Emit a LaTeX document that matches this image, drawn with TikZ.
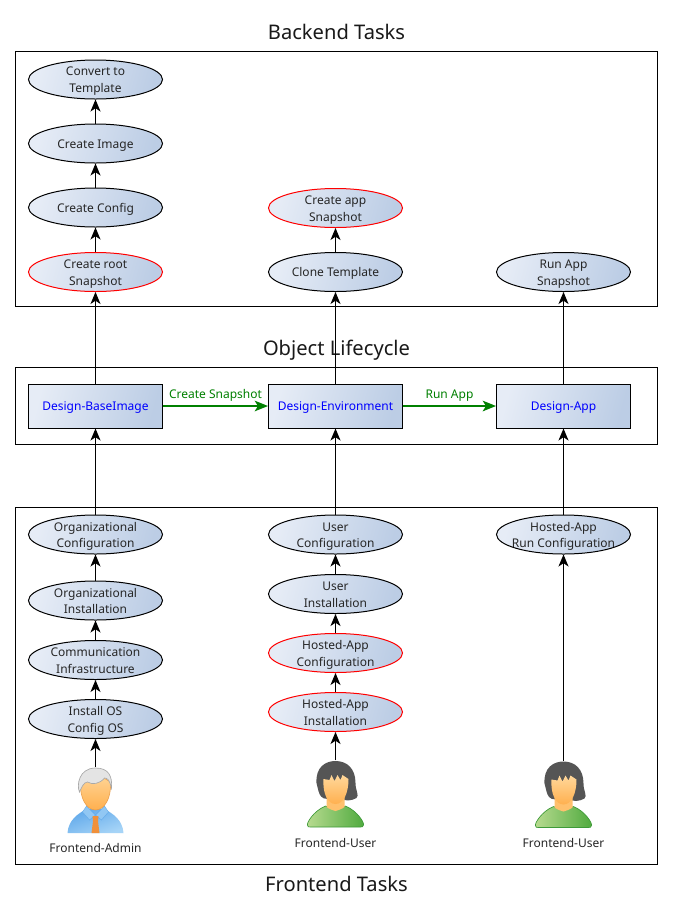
\documentclass[tikz,border=0pt]{standalone}
\usepackage{fontspec}
\setmainfont{Noto Sans}
\usetikzlibrary{shapes.geometric,arrows.meta}
\definecolor{gradA}{HTML}{E6ECF6}
\definecolor{gradB}{HTML}{BCCDE5}
\definecolor{flowgreen}{HTML}{008000}
\definecolor{hairgray}{HTML}{E4E4E4}
\definecolor{hairedge}{HTML}{A8A8A8}
\definecolor{hairdark}{HTML}{555555}
\definecolor{skinA}{HTML}{FFD79A}
\definecolor{skinB}{HTML}{FFB04F}
\definecolor{skinedge}{HTML}{E89A45}
\definecolor{shirtA}{HTML}{A6D4F7}
\definecolor{shirtB}{HTML}{5FA8EA}
\definecolor{greenA}{HTML}{B8DB90}
\definecolor{greenB}{HTML}{4FAA3E}
\definecolor{greenedge}{HTML}{3E9A38}
\definecolor{tiecol}{HTML}{F0903A}
\newcommand{\lbl}[1]{\raisebox{-3.4pt}[0pt][0pt]{\makebox[0pt]{\begin{tabular}{@{}c@{}}#1\end{tabular}}}}
\tikzset{
  x=0.75pt,y=-0.75pt,
  small/.style={font=\fontsize{9}{12.6}\selectfont,text=black!85,align=center},
  taskell/.style={small,ellipse,draw=black,line width=0.75pt,left color=gradA,right color=gradB,shading angle=75,
     minimum width=100.5pt,minimum height=29.25pt,inner sep=0pt},
  redell/.style={taskell,draw=red},
  statebox/.style={small,text=blue,rectangle,draw=black,line width=0.75pt,left color=gradA,right color=gradB,shading angle=75,
     minimum width=100.5pt,minimum height=33pt,inner sep=0pt},
  framebox/.style={draw=black,line width=0.75pt,fill=none},
  heading/.style={font=\fontsize{15.1}{18}\selectfont,text=black!90},
  actorbox/.style={rectangle,minimum width=43pt,minimum height=50pt,inner sep=0pt},
  actorlabel/.style={small},
  arr/.style={draw=black,line width=0.75pt,-{Stealth[length=9pt,width=7.5pt,inset=2.5pt]}},
  greenarr/.style={draw=flowgreen,line width=1.1pt,-{Stealth[length=10pt,width=8pt,inset=2.5pt]}},
  flowlabel/.style={small,text=flowgreen},
}
\newcommand{\adminfigure}[1]{%
  \begin{scope}[shift={#1}]
    % shoulders
    \path[left color=shirtA,right color=shirtB,shading angle=200] (-28,65) .. controls (-27,52) and (-18,46) .. (-9,41) -- (9,41) .. controls (18,46) and (27,52) .. (28,65) -- cycle;
    % collar
    \path[fill=shirtA!70!shirtB,draw=shirtB,line width=0.3pt] (-9,38) -- (0,47) -- (-6,52) -- (-13,44) -- cycle;
    \path[fill=shirtA!70!shirtB,draw=shirtB,line width=0.3pt] (9,38) -- (0,47) -- (6,52) -- (13,44) -- cycle;
    % tie
    \path[fill=tiecol] (-3,48) -- (3,48) -- (2.5,53) -- (4,65) -- (-4,65) -- (-2.5,53) -- cycle;
    % head
    \path[top color=skinA,bottom color=skinB,draw=skinedge,line width=0.4pt] (-15,14) .. controls (-16,30) and (-9,42) .. (0,42) .. controls (9,42) and (16,30) .. (15,14) -- (0,5) -- cycle;
    % hair
    \path[fill=hairgray,draw=hairedge,line width=0.5pt] (-16,24) .. controls (-19,18) and (-17,0) .. (0,0) .. controls (13,0) and (17,8) .. (16,20) .. controls (14,12) and (12,10) .. (9,10) .. controls (4,16) and (-3,17) .. (-8,14) .. controls (-12,14) and (-14,20) .. (-16,24) -- cycle;
  \end{scope}}
\newcommand{\userfigure}[1]{%
  \begin{scope}[shift={#1}]
    % back hair
    \path[fill=hairdark] (-19,22) .. controls (-20,6) and (-10,0) .. (0,0) .. controls (12,0) and (20,8) .. (20,22) .. controls (20,30) and (24,34) .. (21,37) .. controls (16,40) and (10,40) .. (5,38) -- (-8,38) .. controls (-14,38) and (-16,34) .. (-17,30) -- cycle;
    % shirt
    \path[left color=greenA,right color=greenB,draw=greenedge,line width=0.5pt] (-28,64) .. controls (-29,62) and (-22,50) .. (-10,45) .. controls (-4,49) and (4,49) .. (10,45) .. controls (22,50) and (29,62) .. (28,64) .. controls (28,66) and (26,66) .. (25,66) -- (-25,66) .. controls (-27,66) and (-28,66) .. (-28,64) -- cycle;
    % neck
    \path[fill=skinB!60!skinA] (-9,36) -- (9,36) -- (9,45) .. controls (11,46) and (4,49) .. (0,50) .. controls (-4,49) and (-11,46) .. (-9,45) -- cycle;
    % face
    \path[top color=skinA,bottom color=skinB] (-12,18) .. controls (-13,32) and (-8,43) .. (0,43) .. controls (8,43) and (13,32) .. (13,18) -- (7,14) -- (5,19) -- (2,14) -- (-1,20) -- (-4,14) -- (-6,19) -- cycle;
  \end{scope}}
\begin{document}
\begin{tikzpicture}
\useasboundingbox (0,0) rectangle (672,915);
\path[fill=white] (0,0) rectangle (672,915);

% frames
\node[framebox,rectangle,minimum width=481.5pt,minimum height=191.25pt,inner sep=0pt] (backframe) at (336,178.5) {};
\node[framebox,rectangle,minimum width=481.5pt,minimum height=57.75pt,inner sep=0pt] (lifeframe) at (336,405.5) {};
\node[framebox,rectangle,minimum width=481.5pt,minimum height=267.75pt,inner sep=0pt] (frontframe) at (336,685.5) {};

% headings
\node[heading] (thead) at (336.5,32) {Backend Tasks};
\node[heading] (mhead) at (336.5,350.5) {Object Lifecycle};
\node[heading] (bhead) at (336.5,884) {Frontend Tasks};

% backend
\node[taskell] (convert) at (95.5,79.5) {\lbl{Convert to\\Template}};
\node[taskell] (image) at (95.5,143.5) {\lbl{Create Image}};
\node[taskell] (config) at (95.5,207.5) {\lbl{Create Config}};
\node[redell] (root) at (95.5,272) {\lbl{Create root\\Snapshot}};
\node[redell] (appsnap) at (335.5,208) {\lbl{Create app\\Snapshot}};
\node[taskell] (clone) at (335.5,272) {\lbl{Clone Template}};
\node[taskell] (runapp) at (563.5,272) {\lbl{Run App\\Snapshot}};

% lifecycle
\node[statebox] (base) at (95.5,406) {\lbl{Design-BaseImage}};
\node[statebox] (env) at (335.5,406) {\lbl{Design-Environment}};
\node[statebox] (app) at (563.5,406) {\lbl{Design-App}};

% frontend
\node[taskell] (orgconf) at (95.5,534.5) {\lbl{Organizational\\Configuration}};
\node[taskell] (orginst) at (95.5,600.5) {\lbl{Organizational\\Installation}};
\node[taskell] (comm) at (95.5,660) {\lbl{Communication\\Infrastructure}};
\node[taskell] (os) at (95.5,719) {\lbl{Install OS\\Config OS}};
\node[taskell] (userconf) at (335.5,534.5) {\lbl{User\\Configuration}};
\node[taskell] (userinst) at (335.5,594) {\lbl{User\\Installation}};
\node[redell] (hostconf) at (335.5,653) {\lbl{Hosted-App\\Configuration}};
\node[redell] (hostinst) at (335.5,712) {\lbl{Hosted-App\\Installation}};
\node[taskell] (hostrun) at (563.5,534.5) {\lbl{Hosted-App\\Run Configuration}};

% actors
\node[actorbox] (admin) at (95.5,800.5) {};
\node[actorbox] (user) at (335.5,794) {};
\node[actorbox] (userb) at (563.5,794.5) {};
\adminfigure{(95.5,768)}
\userfigure{(335.5,761)}
\userfigure{(563.5,761.5)}
\node[actorlabel] (adminl) at (95.5,848) {Frontend-Admin};
\node[actorlabel] (userl) at (335.5,843) {Frontend-User};
\node[actorlabel] (userbl) at (563.5,843) {Frontend-User};

% connectors
\draw[arr] (config) -- (image);
\draw[arr] (image) -- (convert);
\draw[arr] (root) -- (config);
\draw[arr] (clone) -- (appsnap);
\draw[arr] (base) -- (root);
\draw[arr] (env) -- (clone);
\draw[arr] (app) -- (runapp);
\draw[arr] (orgconf) -- (base);
\draw[arr] (userconf) -- (env);
\draw[arr] (hostrun) -- (app);
\draw[arr] (orginst) -- (orgconf);
\draw[arr] (comm) -- (orginst);
\draw[arr] (os) -- (comm);
\draw[arr] (admin.north) -- (os.south);
\draw[arr] (userinst) -- (userconf);
\draw[arr] (hostconf) -- (userinst);
\draw[arr] (hostinst) -- (hostconf);
\draw[arr] (user.north) -- (hostinst.south);
\draw[arr] (userb.north) -- (hostrun.south);
\draw[greenarr] (base) -- node[flowlabel,above=-0.5pt] {Create Snapshot} (env);
\draw[greenarr] (env) -- node[flowlabel,above=-0.5pt] {Run App} (app);
\end{tikzpicture}
\end{document}
